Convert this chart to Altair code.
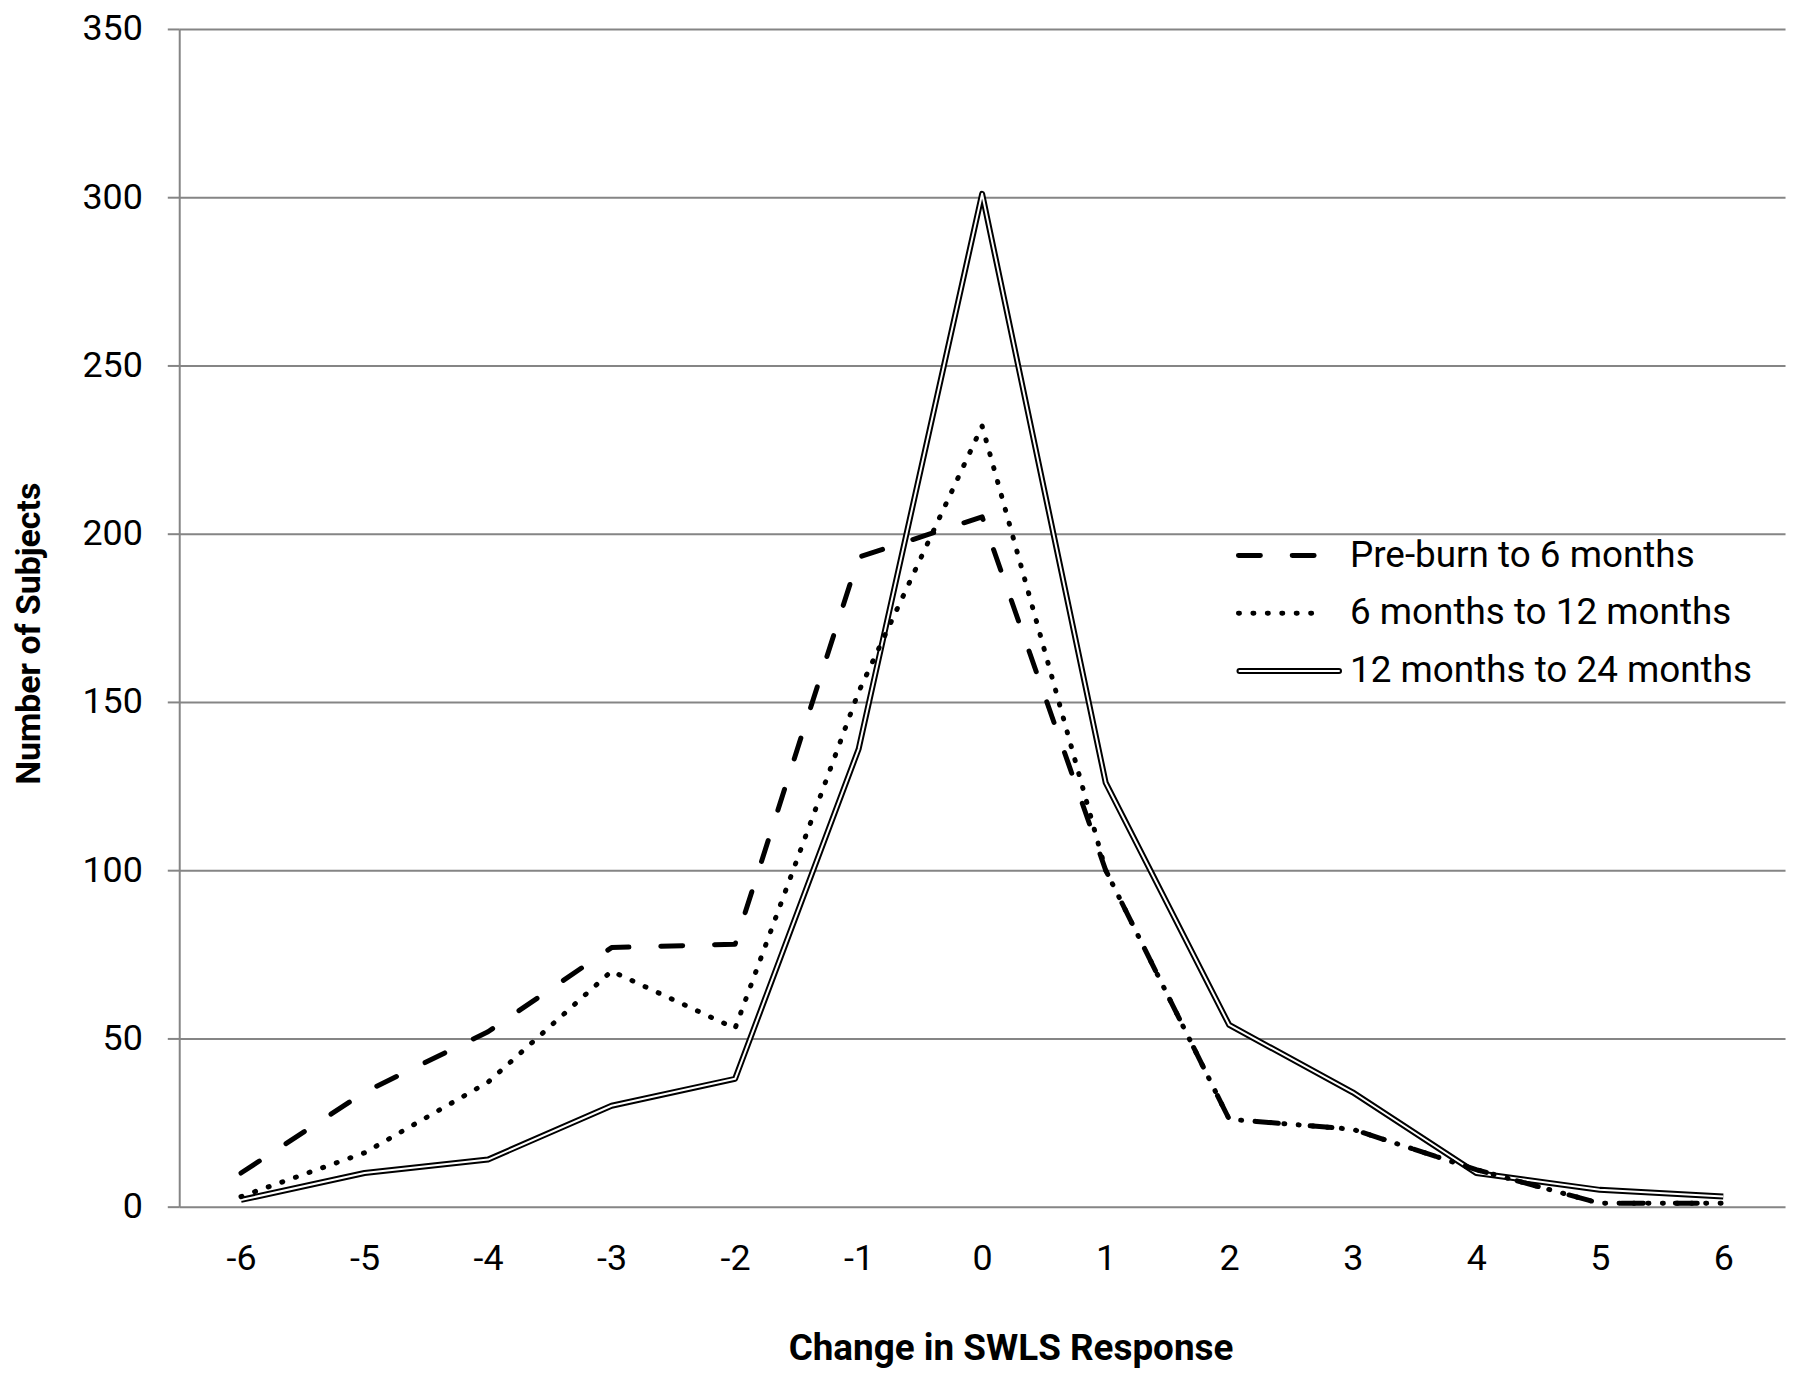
import altair as alt
import pandas as pd

# ---- data ----
changes = [-6, -5, -4, -3, -2, -1, 0, 1, 2, 3, 4, 5, 6]
series_names = ["Pre-burn to 6 months", "6 months to 12 months", "12 months to 24 months"]
pre_burn_to_6 = [10, 34, 52, 77, 78, 193, 205, 100, 26, 23, 11, 1, 1]
m6_to_12 = [3, 16, 37, 70, 53, 153, 232, 100, 26, 23, 11, 1, 1]
m12_to_24 = [2, 10, 14, 30, 38, 136, 301, 126, 54, 34, 10, 5, 3]
y_ticks = [0, 50, 100, 150, 200, 250, 300, 350]

rows = []
for name, vals in zip(series_names, [pre_burn_to_6, m6_to_12, m12_to_24]):
    for c, v in zip(changes, vals):
        rows.append({"change": c, "series": name, "value": v})
df = pd.DataFrame(rows)
leg_df = pd.DataFrame({"series": series_names})

FONT = "Roboto"
GRID = "#858585"
DASH = [22, 32]
DOT = [1, 13.5]

dash_scale = alt.Scale(domain=series_names, range=[DASH, DOT, [1, 0]])

x_enc = alt.X(
    "change:O",
    scale=alt.Scale(padding=0.5),
    sort=changes,
    axis=alt.Axis(
        title="Change in SWLS Response",
        labelAngle=0, ticks=False, domain=False, grid=False,
        labelFont=FONT, labelFontSize=36, labelColor="black", labelPadding=35,
        titleFont=FONT, titleFontSize=37, titleFontWeight="bold", titleColor="black",
        titleX=835, titleY=154, titleBaseline="alphabetic", titleAlign="center",
    ),
)
y_enc = alt.Y(
    "value:Q",
    scale=alt.Scale(domain=[0, 350], nice=False, zero=True),
    axis=alt.Axis(
        title="Number of Subjects",
        values=y_ticks, tickSize=12, tickColor=GRID, tickWidth=2,
        domainColor=GRID, domainWidth=2,
        grid=True, gridColor=GRID, gridWidth=2,
        labelFont=FONT, labelFontSize=36, labelColor="black", labelPadding=25,
        titleFont=FONT, titleFontSize=34, titleFontWeight="bold", titleColor="black",
        titleX=-140, titleY=607, titleAngle=-90, titleBaseline="alphabetic", titleAlign="center",
    ),
)

base = alt.Chart(df)
solid_outer = base.transform_filter(alt.datum.series == series_names[2]).mark_line(
    color="black", strokeWidth=6, strokeJoin="round"
).encode(x=x_enc, y=y_enc)
solid_inner = base.transform_filter(alt.datum.series == series_names[2]).mark_line(
    color="white", strokeWidth=2, strokeJoin="round"
).encode(x=x_enc, y=y_enc)
broken = base.transform_filter(
    (alt.datum.series == series_names[0]) | (alt.datum.series == series_names[1])
).mark_line(color="black", strokeWidth=5, strokeCap="round", strokeJoin="round").encode(
    x=x_enc, y=y_enc,
    strokeDash=alt.StrokeDash("series:N", scale=dash_scale, legend=None),
    order=alt.Order("change:Q"),
)

main = alt.layer(solid_outer, solid_inner, broken)

# ---- legend built from the series list ----
leg_y = alt.Y("series:N", scale=alt.Scale(type="point", domain=series_names, range=[529, 645], padding=0), axis=None)
leg_base = alt.Chart(leg_df)
leg_dashed = leg_base.transform_filter(alt.datum.series == series_names[0]).mark_rule(
    color="black", strokeWidth=5, strokeCap="round", strokeDash=DASH
).encode(y=leg_y, x=alt.value(1064), x2=alt.value(1140))
leg_dotted = leg_base.transform_filter(alt.datum.series == series_names[1]).mark_rule(
    color="black", strokeWidth=5, strokeCap="round", strokeDash=DOT
).encode(y=leg_y, x=alt.value(1064), x2=alt.value(1151))
leg_solid_outer = leg_base.transform_filter(alt.datum.series == series_names[2]).mark_rule(
    color="black", strokeWidth=6, strokeCap="round"
).encode(y=leg_y, x=alt.value(1065), x2=alt.value(1165))
leg_solid_inner = leg_base.transform_filter(alt.datum.series == series_names[2]).mark_rule(
    color="white", strokeWidth=2, strokeCap="round"
).encode(y=leg_y, x=alt.value(1065), x2=alt.value(1165))
leg_text = leg_base.mark_text(
    align="left", baseline="middle", font=FONT, fontSize=37, color="black"
).encode(y=leg_y, x=alt.value(1176), text="series:N")

legend = alt.layer(leg_dashed, leg_dotted, leg_solid_outer, leg_solid_inner, leg_text)

chart = alt.layer(main, legend).resolve_scale(y="independent").properties(
    width=1613, height=1183,
    autosize=alt.AutoSizeParams(type="none"),
    padding={"left": 172, "top": 18, "right": 7, "bottom": 159},
    background="white",
).configure_view(stroke=None)

chart.save("out.html", embed_options={"renderer": "svg", "actions": False})
